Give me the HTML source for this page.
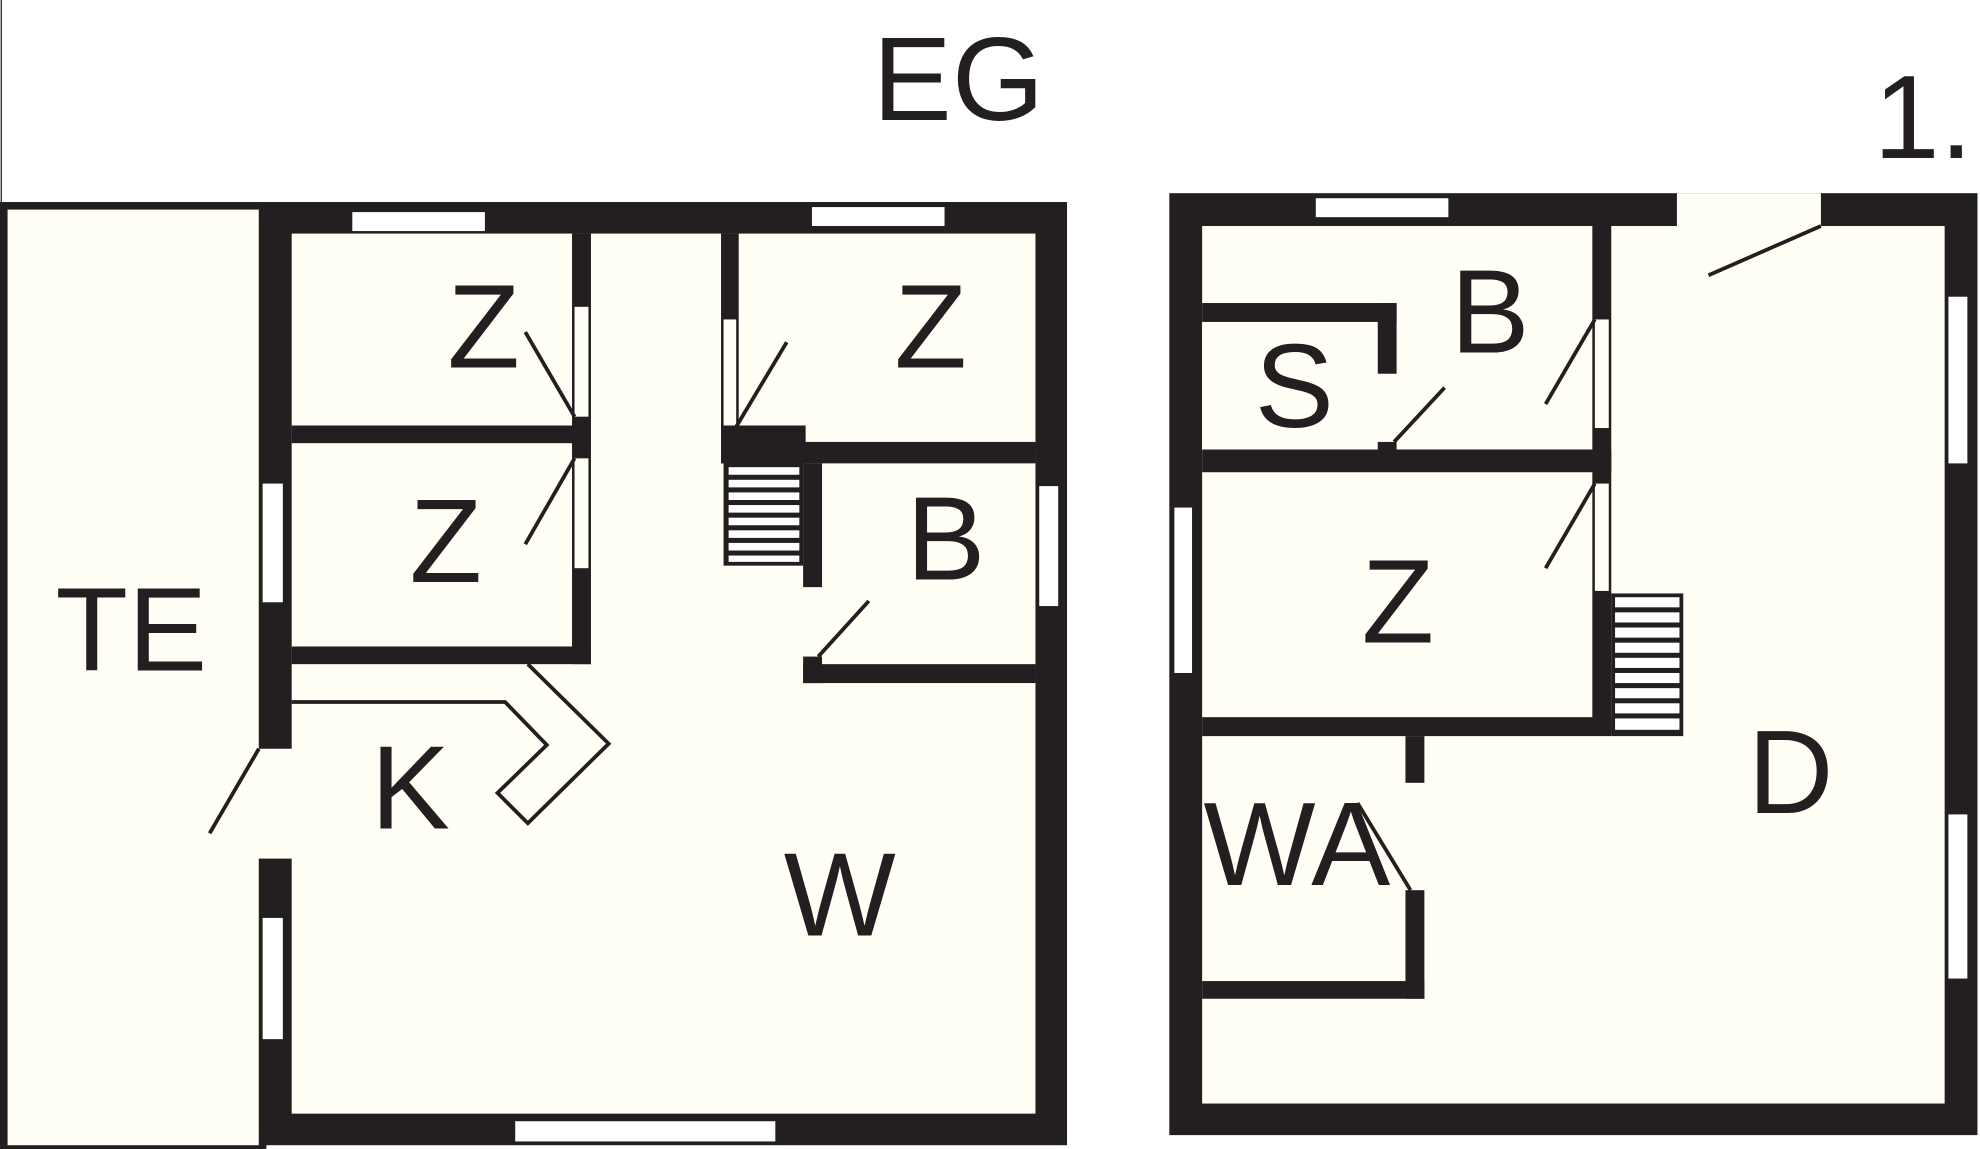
<!DOCTYPE html>
<html><head><meta charset="utf-8"><style>
html,body{margin:0;padding:0;background:#fff;}
svg{display:block;}
text{font-family:"Liberation Sans",sans-serif;fill:#231f20;}
</style></head><body>
<svg width="1980" height="1149" viewBox="0 0 1568 910" preserveAspectRatio="none" xmlns="http://www.w3.org/2000/svg">
<rect x="0" y="0" width="1568" height="910" fill="#fff"/>
<line x1="1" y1="0" x2="1" y2="160" stroke="#231f20" stroke-width="1"/>
<g fill="#231f20">
<!-- TE -->
<rect x="3" y="163" width="205" height="747" fill="#fffff6" stroke="#231f20" stroke-width="6"/>
<!-- EG outer -->
<rect x="205" y="160" width="640" height="747"/>
<rect x="231" y="185" width="589" height="697" fill="#fffff6"/>
<!-- windows -->
<rect x="279" y="168" width="105" height="15" fill="#fff"/>
<rect x="643" y="164" width="105" height="15" fill="#fff"/>
<rect x="408" y="888" width="206" height="16" fill="#fff"/>
<rect x="208" y="383" width="16" height="94" fill="#fff"/>
<rect x="208" y="727" width="16" height="96" fill="#fff"/>
<rect x="823" y="385" width="15" height="95" fill="#fff"/>
<rect x="204" y="593" width="28" height="87" fill="#fffff6"/>
<!-- interior walls EG -->
<rect x="231" y="337" width="237" height="14"/>
<rect x="453" y="185" width="15" height="341"/>
<rect x="455" y="243" width="11" height="87" fill="#fffff6"/>
<rect x="455" y="363" width="11" height="87" fill="#fffff6"/>
<rect x="231" y="512" width="237" height="14"/>
<rect x="571" y="185" width="14" height="182"/>
<rect x="573" y="253" width="10" height="85" fill="#fffff6"/>
<rect x="571" y="337" width="67" height="30"/>
<rect x="585" y="350" width="235" height="17"/>
<rect x="636" y="367" width="15" height="98"/>
<rect x="636" y="520" width="15" height="21"/>
<rect x="636" y="526" width="184" height="15"/>
<!-- stairs EG -->
<rect x="573" y="367" width="63" height="81"/>
<g fill="#fff"><rect x="577" y="370" width="56" height="6"/><rect x="577" y="380" width="56" height="6"/><rect x="577" y="390" width="56" height="6"/><rect x="577" y="400" width="56" height="6"/><rect x="577" y="410" width="56" height="6"/><rect x="577" y="420" width="56" height="6"/><rect x="577" y="430" width="56" height="6"/><rect x="577" y="440" width="56" height="5"/></g>

<!-- 1. outer -->
<rect x="926" y="153" width="640" height="746"/>
<rect x="952" y="179" width="588" height="695" fill="#fffff6"/>
<rect x="1042" y="157" width="105" height="15" fill="#fff"/>
<rect x="1328" y="153" width="114" height="26" fill="#fffff6"/>
<rect x="1543" y="235" width="15" height="132" fill="#fff"/>
<rect x="1543" y="645" width="15" height="130" fill="#fff"/>
<rect x="930" y="402" width="14" height="131" fill="#fff"/>
<!-- interior 1. -->
<rect x="1261" y="179" width="15" height="403"/>
<rect x="1263" y="253" width="11" height="86" fill="#fffff6"/>
<rect x="1263" y="383" width="11" height="85" fill="#fffff6"/>
<rect x="952" y="356" width="324" height="18"/>
<rect x="952" y="240" width="154" height="15"/>
<rect x="1091" y="240" width="15" height="56"/>
<rect x="1091" y="350" width="15" height="10"/>
<rect x="952" y="255" width="139" height="101" fill="#fffff6" stroke="none"/>
<rect x="952" y="568" width="324" height="15"/>
<rect x="1113" y="583" width="15" height="37"/>
<rect x="1113" y="705" width="15" height="86"/>
<rect x="952" y="777" width="176" height="14"/>
<!-- stairs 1. -->
<rect x="1276" y="470" width="57" height="113"/>
<g fill="#fff"><rect x="1279" y="473" width="51" height="8"/><rect x="1279" y="485" width="51" height="8"/><rect x="1279" y="497" width="51" height="8"/><rect x="1279" y="509" width="51" height="8"/><rect x="1279" y="521" width="51" height="8"/><rect x="1279" y="533" width="51" height="8"/><rect x="1279" y="545" width="51" height="8"/><rect x="1279" y="557" width="51" height="8"/><rect x="1279" y="569" width="51" height="9"/></g>
</g>
<!-- door lines -->
<g stroke="#231f20" stroke-width="3" fill="none">
<line x1="205" y1="593" x2="166" y2="660"/>
<line x1="455" y1="330" x2="416" y2="263"/>
<line x1="455" y1="363" x2="416" y2="431"/>
<line x1="583" y1="338" x2="623" y2="271"/>
<line x1="648" y1="520" x2="688" y2="476"/>
<line x1="1442" y1="179" x2="1353" y2="218"/>
<line x1="1263" y1="253" x2="1224" y2="320"/>
<line x1="1263" y1="383" x2="1224" y2="450"/>
<line x1="1104" y1="350" x2="1144" y2="307"/>
<line x1="1075" y1="636" x2="1117" y2="705"/>
<polyline points="231,556 400,556 433,590 394,628 418,652 482,589 418,526"/>
</g>
<g font-size="94" text-anchor="middle">
<text x="759" y="95">EG</text>
<text x="1523" y="125">1.</text>
<text x="383" y="291">Z</text>
<text x="737" y="291">Z</text>
<text x="353" y="461">Z</text>
<text x="749" y="459">B</text>
<text x="104" y="531">TE</text>
<text x="325" y="656">K</text>
<text x="665" y="741">W</text>
<text x="1025" y="338">S</text>
<text x="1180" y="279">B</text>
<text x="1107" y="509">Z</text>
<text x="1418" y="644">D</text>
<text x="1027" y="701">WA</text>
</g>
</svg>
</body></html>
